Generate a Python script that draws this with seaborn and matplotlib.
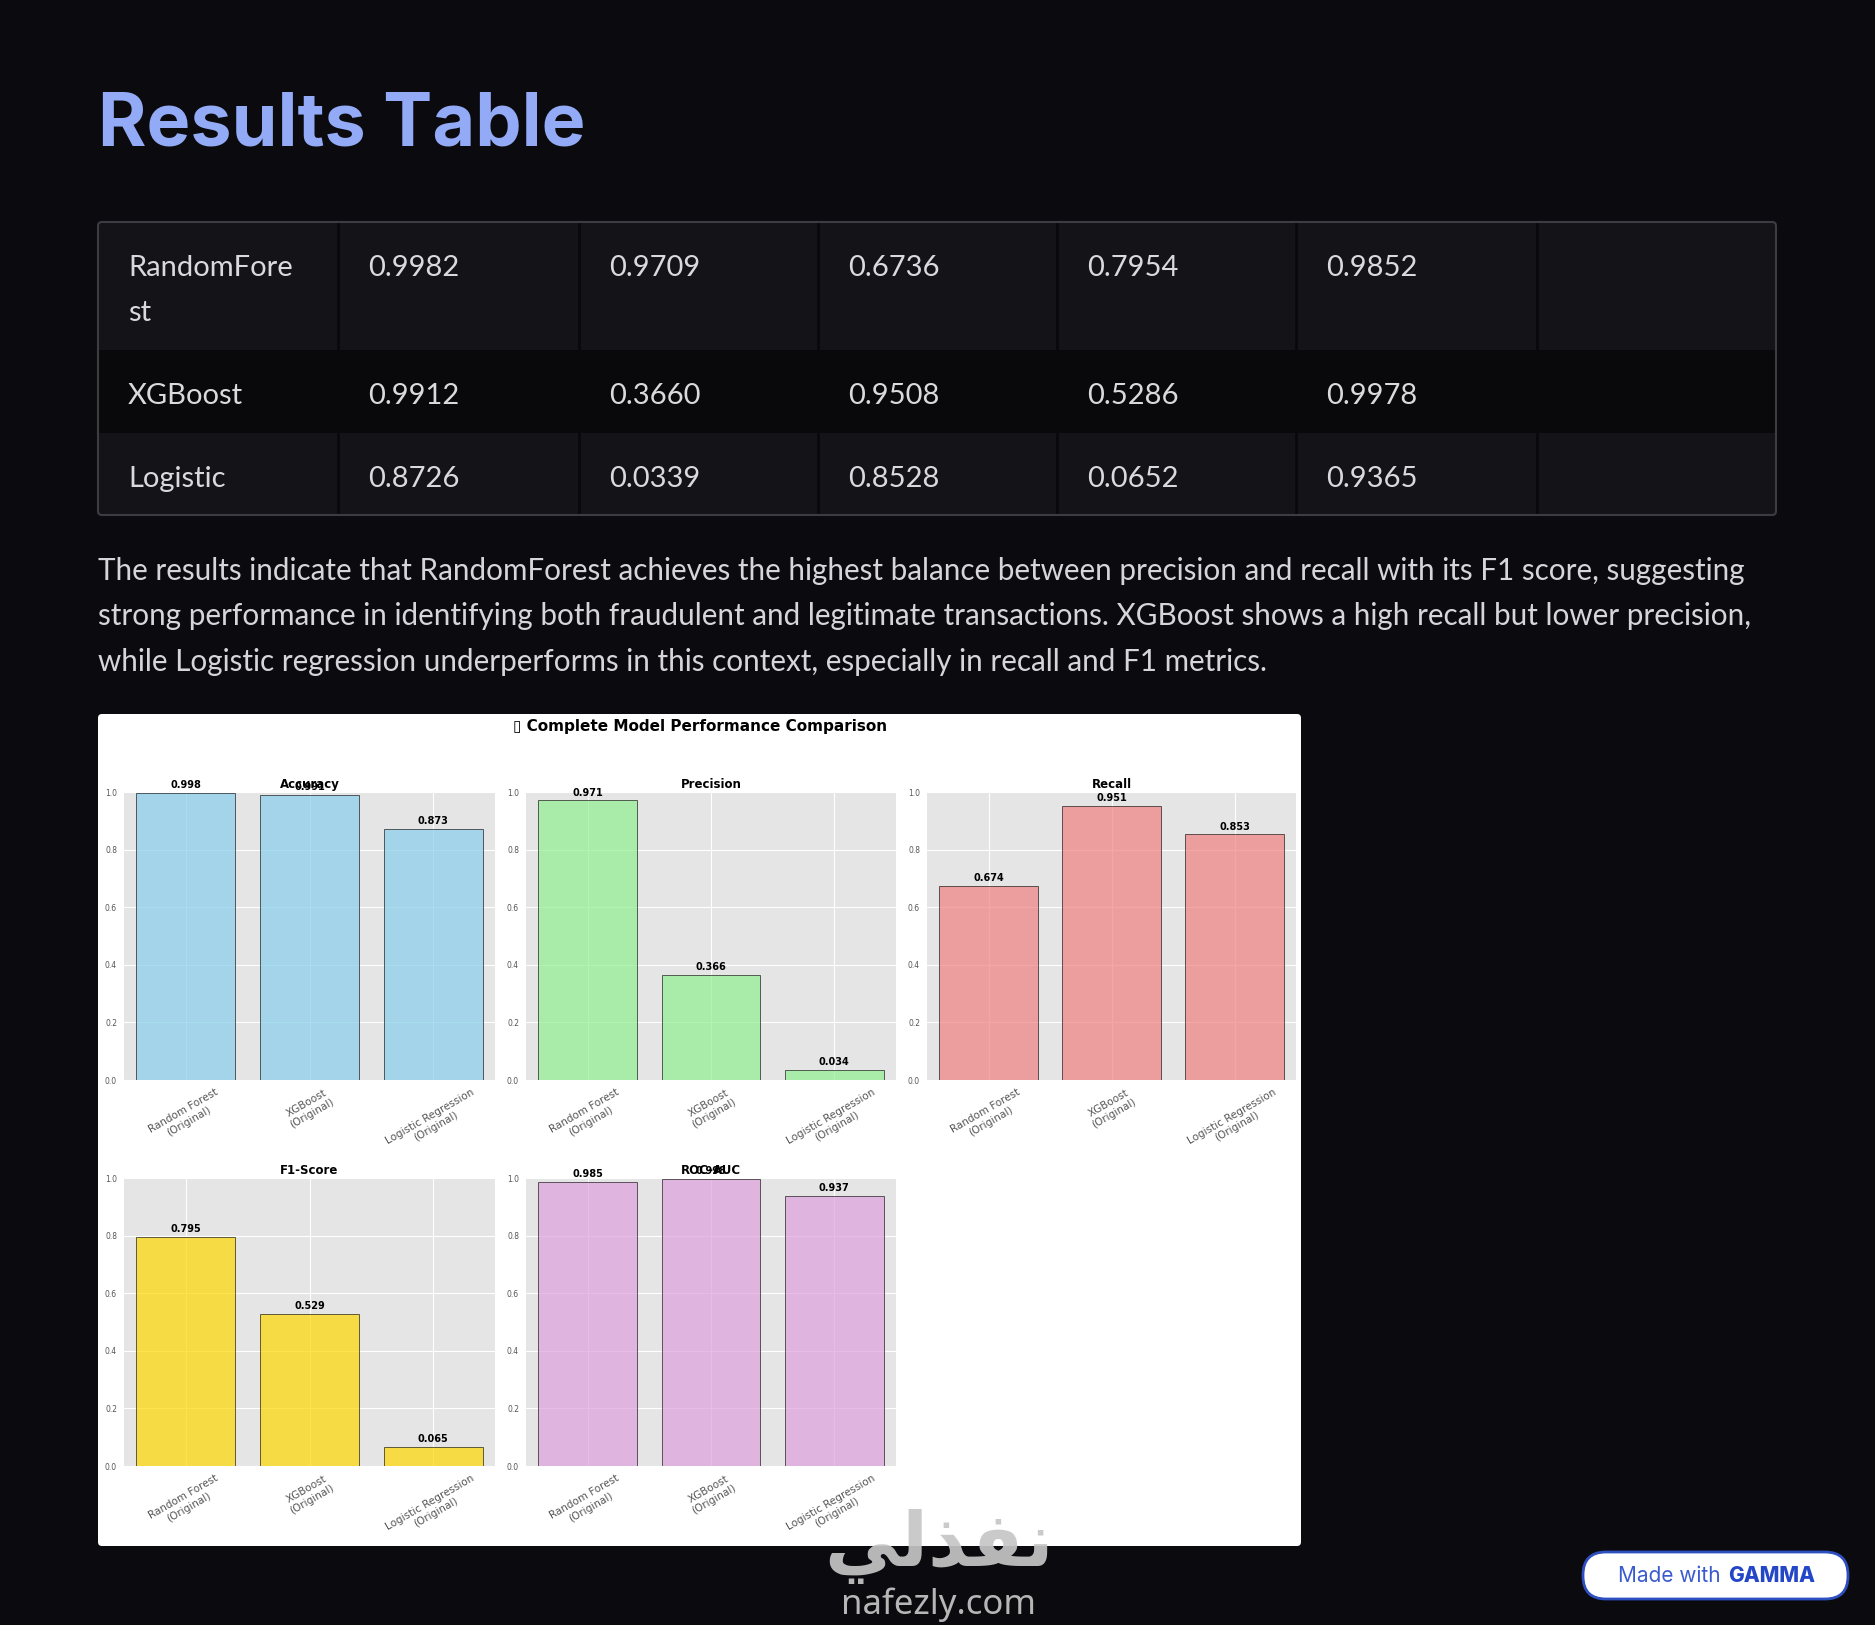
import numpy as np
import pandas as pd
import matplotlib
matplotlib.use("Agg")
import matplotlib.pyplot as plt
from matplotlib.patches import FancyBboxPatch, Rectangle
import seaborn as sns

# ---------------- data ----------------
page_title = "Results Table"
table_models = ["RandomFore\nst", "XGBoost", "Logistic"]
accuracy = [0.9982, 0.9912, 0.8726]
precision = [0.9709, 0.3660, 0.0339]
recall = [0.6736, 0.9508, 0.8528]
f1_score = [0.7954, 0.5286, 0.0652]
roc_auc = [0.9852, 0.9978, 0.9365]
chart_models = ["Random Forest\n(Original)", "XGBoost\n(Original)",
                "Logistic Regression\n(Original)"]
metric_titles = ["Accuracy", "Precision", "Recall", "F1-Score", "ROC-AUC"]
metric_colors = ["skyblue", "lightgreen", "lightcoral", "gold", "plum"]
chart_title = "\u25af Complete Model Performance Comparison"
paragraph_lines = [
    "The results indicate that RandomForest achieves the highest balance between precision and recall with its F1 score, suggesting",
    "strong performance in identifying both fraudulent and legitimate transactions. XGBoost shows a high recall but lower precision,",
    "while Logistic regression underperforms in this context, especially in recall and F1 metrics.",
]
watermark_ar = "\uFEF2\uFEDF\uFEAC\uFED4\uFEE7"  # نفذلي (visual order, shaped forms)
watermark_en = "nafezly.com"
badge_text = "Made with"
badge_logo = "GAMMA"

# ---------------- layout ----------------
W, H = 1875, 1625
BG = "#0b0b0f"

sns.set_theme(style="white")
plt.rcParams["font.family"] = ["DejaVu Sans"]

fig = plt.figure(figsize=(W / 100, H / 100), dpi=100, facecolor=BG)

canvas = fig.add_axes([0, 0, 1, 1], zorder=0)
canvas.set_xlim(0, W)
canvas.set_ylim(H, 0)
canvas.axis("off")

# title
canvas.text(98, 146, page_title, ha="left", va="baseline", family=["Inter", "DejaVu Sans"],
            fontweight="bold", fontsize=53, color="#93aaf7")

# table
col_edges = [98, 338, 579, 818, 1057, 1296, 1537, 1776]
row_edges = [222, 350, 433, 515]
row_fills = ["#131318", "#09090c", "#131318"]
for r in range(3):
    canvas.add_patch(Rectangle((col_edges[0], row_edges[r]), col_edges[-1] - col_edges[0],
                               row_edges[r + 1] - row_edges[r], facecolor=row_fills[r],
                               edgecolor="none", zorder=1))
for x in col_edges[1:-1]:
    canvas.plot([x, x], [row_edges[0], row_edges[-1]], color="#09090c", lw=2, zorder=2)
canvas.add_patch(FancyBboxPatch((col_edges[0], row_edges[0]), col_edges[-1] - col_edges[0],
                                row_edges[-1] - row_edges[0],
                                boxstyle="round,pad=0,rounding_size=4", fill=False,
                                edgecolor="#3c3c42", lw=1.5, zorder=3))
table_rows = list(zip(accuracy, precision, recall, f1_score, roc_auc))
txt_kw = dict(family=["Lato", "DejaVu Sans"], fontsize=21, color="#dadadd", va="center", ha="left")
for r, (name, vals) in enumerate(zip(table_models, table_rows)):
    y0 = row_edges[r] + 46
    for k, part in enumerate(name.split("\n")):
        canvas.text(col_edges[0] + 30, y0 + k * 45, part, **txt_kw)
    for c, v in enumerate(vals):
        canvas.text(col_edges[c + 1] + 30, y0, f"{v:.4f}", **txt_kw)

# paragraph
for i, line in enumerate(paragraph_lines):
    canvas.text(98, 571 + i * 45.5, line, family=["Lato", "DejaVu Sans"], fontsize=21.3,
                color="#d6d6da", va="center", ha="left")

# chart panel
canvas.add_patch(FancyBboxPatch((98, 714), 1203, 832, boxstyle="round,pad=0,rounding_size=4",
                                facecolor="white", edgecolor="none", zorder=1))
canvas.text(700, 726, chart_title, ha="center", va="center", fontweight="bold",
            fontsize=11, color="black")


def rect(l, r, t, b):
    return [l / W, 1 - b / H, (r - l) / W, (b - t) / H]


col_lr = [(124, 495), (526, 896), (927, 1296)]
row_tb = [(792, 1080), (1178, 1466)]
metrics = [accuracy, precision, recall, f1_score, roc_auc]

for i, (vals, title, color) in enumerate(zip(metrics, metric_titles, metric_colors)):
    r, c = divmod(i, 3)
    ax = fig.add_axes(rect(*col_lr[c], *row_tb[r]), zorder=1)
    ax.set_facecolor("#E5E5E5")
    ax.set_axisbelow(True)
    df = pd.DataFrame({"model": chart_models, "value": vals})
    sns.barplot(data=df, x="model", y="value", color=color, saturation=1, alpha=0.7,
                edgecolor="black", linewidth=0.6, width=0.8, ax=ax)
    ax.grid(True, axis="both", color="white", lw=0.8)
    ax.set_ylim(0, 1.0)
    ax.set_yticks(np.arange(0, 1.01, 0.2))
    ax.set_xlabel("")
    ax.set_ylabel("")
    for s in ax.spines.values():
        s.set_visible(False)
    ax.tick_params(axis="both", colors="#555555", length=3, width=0.8, pad=2)
    ax.tick_params(axis="y", labelsize=5.5)
    ax.tick_params(axis="x", labelsize=7.5)
    for lab in ax.get_xticklabels():
        lab.set_rotation(30)
        lab.set_ha("center")
    ax.set_title(title, fontweight="bold", fontsize=8.5, pad=3, color="black")
    for p in ax.patches:
        h = p.get_height()
        ax.text(p.get_x() + p.get_width() / 2, h + 0.01, f"{h + 1e-9:.3f}", ha="center",
                va="bottom", fontweight="bold", fontsize=7, color="black")

# overlay: watermark and badge
over = fig.add_axes([0, 0, 1, 1], zorder=10)
over.set_xlim(0, W)
over.set_ylim(H, 0)
over.axis("off")
over.patch.set_alpha(0)

over.text(939, 1546, watermark_ar, ha="center", va="center", family=["DejaVu Sans"],
          fontweight="bold", fontsize=54, color="#c6c6c6", alpha=0.92)
over.text(939, 1605, watermark_en, ha="center", va="center", family=["Noto Sans", "DejaVu Sans"],
          fontweight="medium", fontsize=25, color="#c6c6c6", alpha=0.92)

over.add_patch(FancyBboxPatch((1583, 1552), 265, 47, boxstyle="round,pad=0,rounding_size=23",
                              facecolor="white", edgecolor="#2d4fc0", lw=2))
over.text(1721, 1576, badge_text, ha="right", va="center", family=["Inter", "DejaVu Sans"],
          fontsize=15, color="#3a5bd0")
over.text(1728, 1576, badge_logo, ha="left", va="center", family=["Inter", "DejaVu Sans"],
          fontweight="heavy", fontsize=15, color="#2447c7")

fig.savefig("out.png", dpi=100, facecolor=BG)
